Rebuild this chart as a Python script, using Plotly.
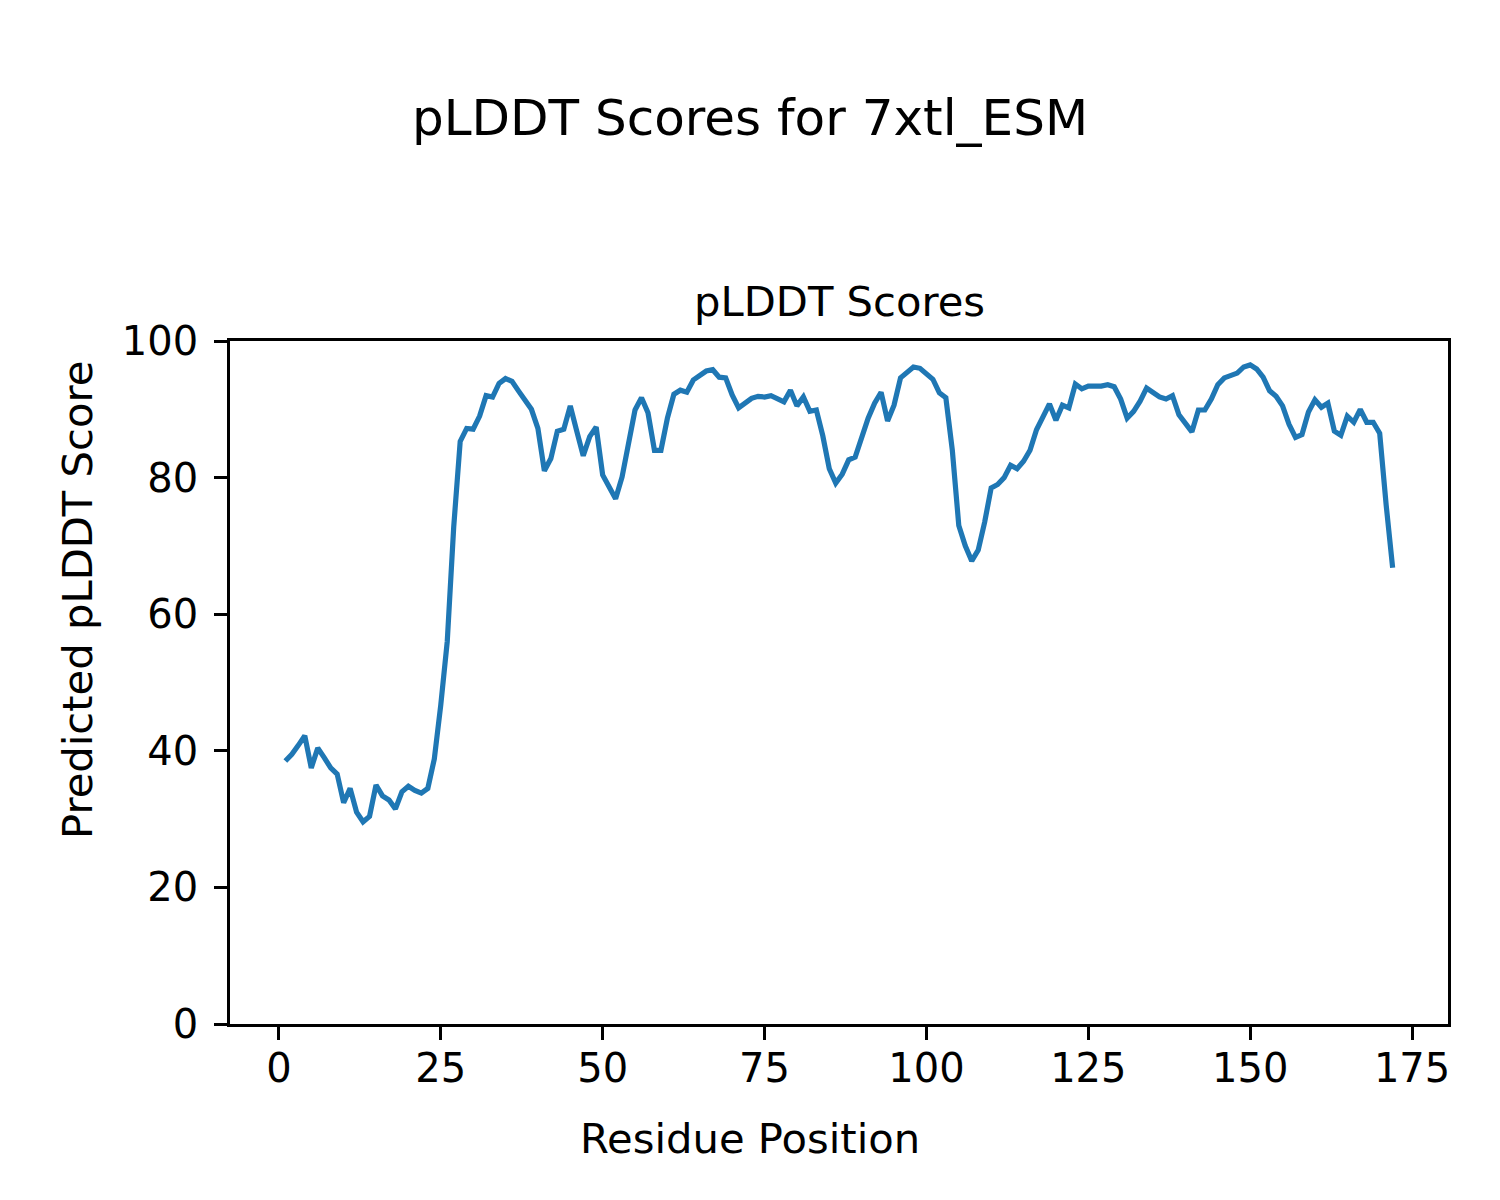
import plotly.graph_objects as go

residues = list(range(1, 173))
plddt = [
    38.5, 39.5, 40.8, 42.2, 37.5, 40.4, 39.0, 37.5, 36.6, 32.4,
    34.5, 31.0, 29.6, 30.4, 35.0, 33.4, 32.8, 31.5, 34.0, 34.8,
    34.2, 33.8, 34.5, 38.8, 46.7, 56.0, 72.8, 85.3, 87.2, 87.1,
    89.0, 92.0, 91.8, 93.8, 94.5, 94.1, 92.7, 91.5, 90.0, 87.2,
    81.0, 82.8, 86.8, 87.1, 90.5, 86.8, 83.2, 86.0, 87.4, 80.4,
    78.6, 76.9, 80.1, 85.0, 89.9, 91.7, 89.5, 84.0, 84.0, 88.7,
    92.2, 92.8, 92.5, 94.3, 95.0, 95.6, 95.8, 94.7, 94.6, 92.1,
    90.2, 90.9, 91.6, 91.9, 91.8, 92.0, 91.5, 91.1, 92.8, 90.5,
    91.8, 89.7, 89.9, 86.1, 81.3, 79.2, 80.5, 82.6, 83.0, 85.8,
    88.7, 90.9, 92.5, 88.3, 90.6, 94.6, 95.3, 96.2, 96.0, 95.3,
    94.4, 92.4, 91.7, 84.0, 73.0, 70.0, 67.8, 69.4, 73.5, 78.5,
    79.0, 80.0, 81.8, 81.3, 82.4, 84.0, 87.0, 88.9, 90.8, 88.4,
    90.6, 90.2, 93.7, 93.0, 93.4, 93.4, 93.4, 93.6, 93.3, 91.5,
    88.7, 89.7, 91.2, 93.1, 92.5, 91.8, 91.5, 92.0, 89.2, 88.0,
    86.7, 89.9, 89.9, 91.5, 93.6, 94.6, 95.0, 95.3, 96.2, 96.5,
    95.9, 94.7, 92.7, 91.9, 90.5, 87.8, 85.9, 86.3, 89.6, 91.4,
    90.3, 90.9, 86.8, 86.2, 89.0, 88.1, 90.0, 88.1, 88.1, 86.5,
    76.0, 66.8,
]
x_ticks = [0, 25, 50, 75, 100, 125, 150, 175]
y_ticks = [0, 20, 40, 60, 80, 100]

FONT = "DejaVu Sans"
W, H = 1500, 1200
OFF = 8  # page offset of the plot div
# target screen positions of the plot area
SL, SR, ST, SB = 230, 1448, 341, 1024
L = SL - OFF
T = ST - OFF
R = W - (SR - OFF)
B = H - (SB - OFF)
pw = W - L - R
ph = H - T - B

fig = go.Figure()
fig.add_trace(go.Scatter(x=residues, y=plddt, mode="lines",
                         line=dict(color="#1f77b4", width=5.2)))

axis_common = dict(showline=True, mirror=True, linecolor="black", linewidth=2.8,
                   ticks="outside", ticklen=13, tickwidth=2.8, tickcolor="black",
                   showgrid=False, zeroline=False,
                   tickfont=dict(family=FONT, size=40, color="black"))
fig.update_xaxes(range=[-7.55, 180.55], tickvals=x_ticks, ticklabelstandoff=-6, **axis_common)
fig.update_yaxes(range=[0, 100], tickvals=y_ticks, ticklabelstandoff=8, **axis_common)

def px(xs):
    return (xs - OFF - L) / pw

def py(ys):
    return (H - B - (ys - OFF)) / ph

fig.update_layout(
    width=W, height=H,
    margin=dict(l=L, r=R, t=T, b=B, pad=0),
    plot_bgcolor="white", paper_bgcolor="white",
    showlegend=False,
    font=dict(family=FONT, color="black"),
    annotations=[
        dict(text="pLDDT Scores for 7xtl_ESM", x=px(750), y=py(118),
             xref="paper", yref="paper", showarrow=False, xanchor="center", yanchor="middle",
             font=dict(family=FONT, size=50, color="black")),
        dict(text="pLDDT Scores", x=0.5, y=py(302),
             xref="paper", yref="paper", showarrow=False, xanchor="center", yanchor="middle",
             font=dict(family=FONT, size=41.7, color="black")),
        dict(text="Residue Position", x=px(750), y=py(1138),
             xref="paper", yref="paper", showarrow=False, xanchor="center", yanchor="middle",
             font=dict(family=FONT, size=41.7, color="black")),
        dict(text="Predicted pLDDT Score", x=px(77), y=py(600),
             xref="paper", yref="paper", showarrow=False, xanchor="center", yanchor="middle",
             textangle=-90, font=dict(family=FONT, size=41.7, color="black")),
    ],
)

fig.write_html("out.html")
